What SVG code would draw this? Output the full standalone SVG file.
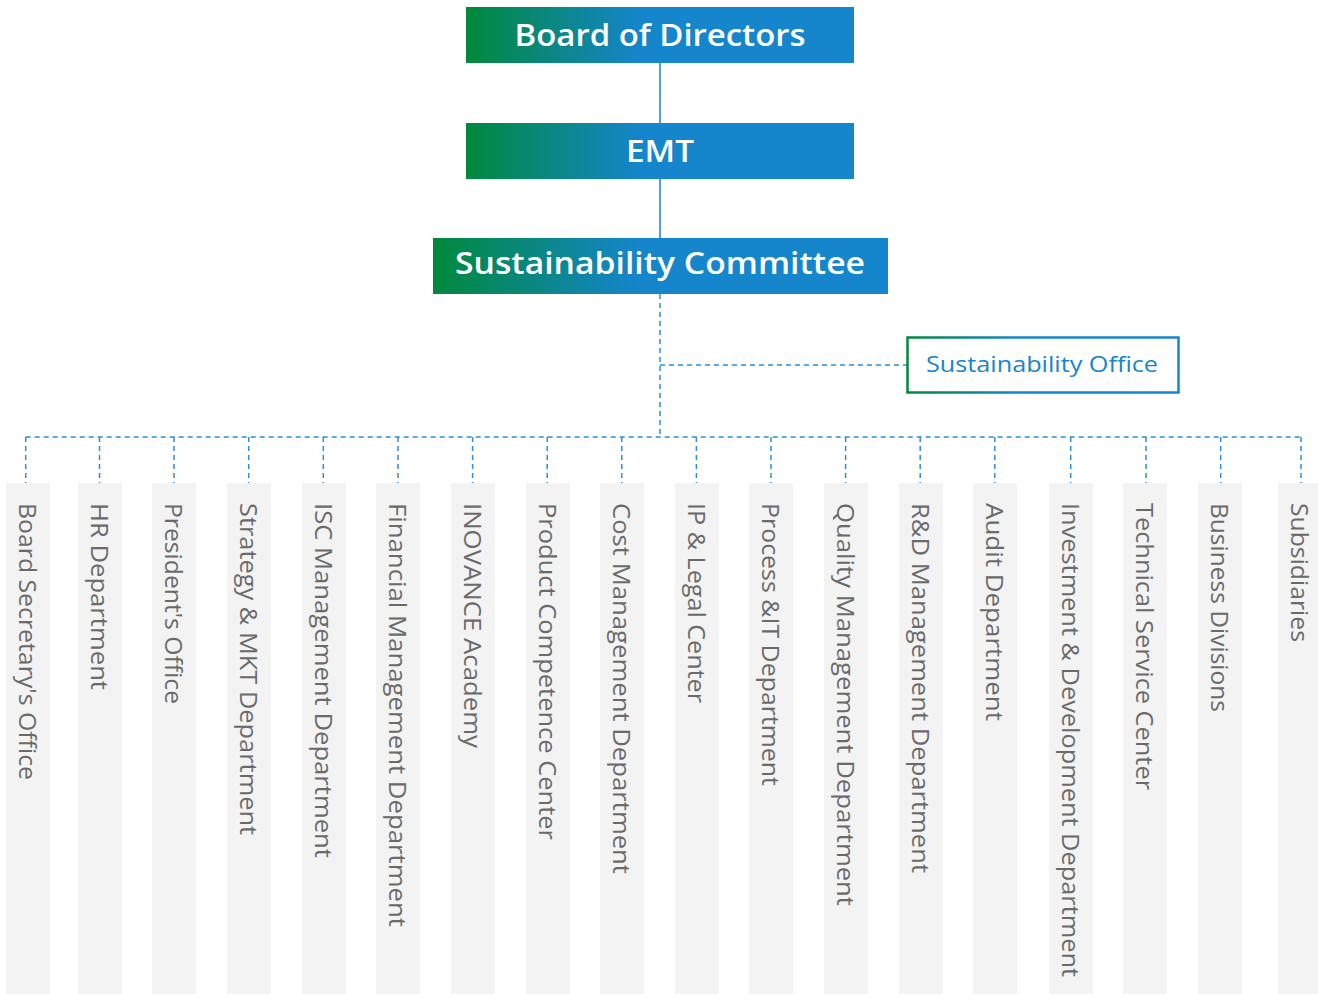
<svg xmlns="http://www.w3.org/2000/svg" width="1318" height="994" viewBox="0 0 1318 994">
<defs>
<linearGradient id="gHead" x1="0" y1="0" x2="1" y2="0">
<stop offset="0" stop-color="#00893b"/>
<stop offset="0.45" stop-color="#1585cc"/>
<stop offset="1" stop-color="#1585cc"/>
</linearGradient>
<linearGradient id="gOffice" gradientUnits="userSpaceOnUse" x1="907" y1="0" x2="1179" y2="0">
<stop offset="0" stop-color="#00893b"/>
<stop offset="0.4" stop-color="#1585cc"/>
<stop offset="1" stop-color="#1585cc"/>
</linearGradient>
</defs>
<style>
.head{fill:url(#gHead)}
.headtxt{fill:#ffffff;font-family:"Open Sans","Noto Sans",sans-serif;font-weight:600;font-size:31px;text-anchor:middle}
.office{fill:#ffffff;stroke:url(#gOffice);stroke-width:2.5}
.officetxt{fill:#1585cc;font-family:"Open Sans","Noto Sans",sans-serif;font-weight:400;font-size:22px}
.col{fill:#f3f3f3}
.coltxt{fill:#6a6a6a;font-family:"Open Sans","Noto Sans",sans-serif;font-weight:400;font-size:24px}
.solid{stroke:#1585cc;stroke-width:1.5;fill:none}
.dash{stroke:#2a90d8;stroke-width:1.5;fill:none;stroke-dasharray:5 4}
</style>
<g id="connectors">
<line class="solid" x1="660" y1="62" x2="660" y2="123"/>
<line class="solid" x1="660" y1="178" x2="660" y2="238"/>
<line class="dash" x1="660" y1="294" x2="660" y2="437"/>
<line class="dash" x1="660" y1="365" x2="907" y2="365"/>
<line class="dash" x1="25.7" y1="437" x2="1301" y2="437"/>
<line class="dash" x1="25.7" y1="437" x2="25.7" y2="483"/>
<line class="dash" x1="99.5" y1="437" x2="99.5" y2="483"/>
<line class="dash" x1="174" y1="437" x2="174" y2="483"/>
<line class="dash" x1="248.7" y1="437" x2="248.7" y2="483"/>
<line class="dash" x1="323.3" y1="437" x2="323.3" y2="483"/>
<line class="dash" x1="398" y1="437" x2="398" y2="483"/>
<line class="dash" x1="472.6" y1="437" x2="472.6" y2="483"/>
<line class="dash" x1="547.2" y1="437" x2="547.2" y2="483"/>
<line class="dash" x1="621.8" y1="437" x2="621.8" y2="483"/>
<line class="dash" x1="696.4" y1="437" x2="696.4" y2="483"/>
<line class="dash" x1="771" y1="437" x2="771" y2="483"/>
<line class="dash" x1="845.6" y1="437" x2="845.6" y2="483"/>
<line class="dash" x1="920.2" y1="437" x2="920.2" y2="483"/>
<line class="dash" x1="994.8" y1="437" x2="994.8" y2="483"/>
<line class="dash" x1="1070.7" y1="437" x2="1070.7" y2="483"/>
<line class="dash" x1="1146" y1="437" x2="1146" y2="483"/>
<line class="dash" x1="1220.7" y1="437" x2="1220.7" y2="483"/>
<line class="dash" x1="1301" y1="437" x2="1301" y2="483"/>
</g>
<g id="board">
<rect class="head" x="466" y="7" width="388" height="56"/>
<text class="headtxt" x="660" y="46" textLength="291" lengthAdjust="spacingAndGlyphs">Board of Directors</text>
</g>
<g id="emt">
<rect class="head" x="466" y="123" width="388" height="56"/>
<text class="headtxt" x="660" y="162" textLength="68" lengthAdjust="spacingAndGlyphs">EMT</text>
</g>
<g id="committee">
<rect class="head" x="433" y="238" width="455" height="56"/>
<text class="headtxt" x="660" y="274" textLength="410" lengthAdjust="spacingAndGlyphs">Sustainability Committee</text>
</g>
<g id="office">
<rect class="office" x="907.5" y="337.5" width="271" height="55"/>
<text class="officetxt" x="926" y="372" textLength="232" lengthAdjust="spacingAndGlyphs">Sustainability Office</text>
</g>
<g id="c1"><rect class="col" x="6" y="483" width="44" height="511"/><text class="coltxt" transform="translate(19,503) rotate(90)" textLength="277" lengthAdjust="spacingAndGlyphs">Board Secretary's Office</text></g>
<g id="c2"><rect class="col" x="78" y="483" width="44" height="511"/><text class="coltxt" transform="translate(91,503) rotate(90)" textLength="187" lengthAdjust="spacingAndGlyphs">HR Department</text></g>
<g id="c3"><rect class="col" x="152" y="483" width="44" height="511"/><text class="coltxt" transform="translate(165,503) rotate(90)" textLength="201" lengthAdjust="spacingAndGlyphs">President's Office</text></g>
<g id="c4"><rect class="col" x="227" y="483" width="44" height="511"/><text class="coltxt" transform="translate(240,503) rotate(90)" textLength="332" lengthAdjust="spacingAndGlyphs">Strategy &amp; MKT Department</text></g>
<g id="c5"><rect class="col" x="302" y="483" width="44" height="511"/><text class="coltxt" transform="translate(315,503) rotate(90)" textLength="355" lengthAdjust="spacingAndGlyphs">ISC Management Department</text></g>
<g id="c6"><rect class="col" x="376" y="483" width="44" height="511"/><text class="coltxt" transform="translate(389,503) rotate(90)" textLength="424" lengthAdjust="spacingAndGlyphs">Financial Management Department</text></g>
<g id="c7"><rect class="col" x="451" y="483" width="44" height="511"/><text class="coltxt" transform="translate(464,503) rotate(90)" textLength="245" lengthAdjust="spacingAndGlyphs">INOVANCE Academy</text></g>
<g id="c8"><rect class="col" x="526" y="483" width="44" height="511"/><text class="coltxt" transform="translate(539,503) rotate(90)" textLength="337" lengthAdjust="spacingAndGlyphs">Product Competence Center</text></g>
<g id="c9"><rect class="col" x="600" y="483" width="44" height="511"/><text class="coltxt" transform="translate(613,503) rotate(90)" textLength="371" lengthAdjust="spacingAndGlyphs">Cost Management Department</text></g>
<g id="c10"><rect class="col" x="675" y="483" width="44" height="511"/><text class="coltxt" transform="translate(688,503) rotate(90)" textLength="200" lengthAdjust="spacingAndGlyphs">IP &amp; Legal Center</text></g>
<g id="c11"><rect class="col" x="749" y="483" width="44" height="511"/><text class="coltxt" transform="translate(762,503) rotate(90)" textLength="283" lengthAdjust="spacingAndGlyphs">Process &amp;IT Department</text></g>
<g id="c12"><rect class="col" x="824" y="483" width="44" height="511"/><text class="coltxt" transform="translate(837,503) rotate(90)" textLength="403" lengthAdjust="spacingAndGlyphs">Quality Management Department</text></g>
<g id="c13"><rect class="col" x="899" y="483" width="44" height="511"/><text class="coltxt" transform="translate(912,503) rotate(90)" textLength="370" lengthAdjust="spacingAndGlyphs">R&amp;D Management Department</text></g>
<g id="c14"><rect class="col" x="973" y="483" width="44" height="511"/><text class="coltxt" transform="translate(986,503) rotate(90)" textLength="218" lengthAdjust="spacingAndGlyphs">Audit Department</text></g>
<g id="c15"><rect class="col" x="1049" y="483" width="44" height="511"/><text class="coltxt" transform="translate(1062,503) rotate(90)" textLength="474" lengthAdjust="spacingAndGlyphs">Investment &amp; Development Department</text></g>
<g id="c16"><rect class="col" x="1123" y="483" width="44" height="511"/><text class="coltxt" transform="translate(1136,503) rotate(90)" textLength="287" lengthAdjust="spacingAndGlyphs">Technical Service Center</text></g>
<g id="c17"><rect class="col" x="1198" y="483" width="44" height="511"/><text class="coltxt" transform="translate(1211,503) rotate(90)" textLength="209" lengthAdjust="spacingAndGlyphs">Business Divisions</text></g>
<g id="c18"><rect class="col" x="1278" y="483" width="44" height="511"/><text class="coltxt" transform="translate(1291,503) rotate(90)" textLength="139" lengthAdjust="spacingAndGlyphs">Subsidiaries</text></g>
</svg>
